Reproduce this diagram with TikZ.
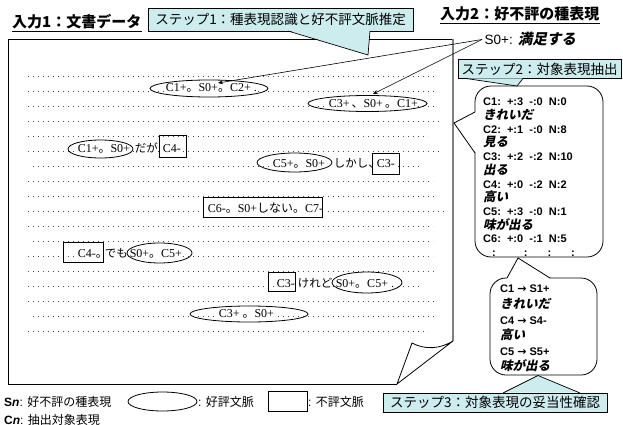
\documentclass[tikz,border=0pt]{standalone}
\usepackage{fontspec}
\setmainfont{Liberation Sans}
\newfontfamily\tmfont{Liberation Serif}
\newfontfamily\jpfont{Noto Sans CJK JP}
\newfontfamily\jslant{Noto Sans CJK JP}[FakeSlant=0.22]
\newfontfamily\arrfont{DejaVu Sans}
\usetikzlibrary{shapes.geometric,arrows.meta,calc}
\definecolor{callc}{RGB}{204,236,238}
\newcommand\jj[1]{{\jpfont #1}}
\newcommand\jb[1]{{\jslant\fontsize{12.5}{12.5}\selectfont\bfseries #1}}
\newcommand\rarr{{\arrfont\bfseries →}}
\begin{document}
\begin{tikzpicture}[x=1pt,y=-1pt,
  dotrow/.style={line width=0.9pt, dash pattern=on 0.9pt off 4.1pt, black!70},
  rowtxt/.style={fill=white, inner sep=0.6pt, anchor=base west, font=\tmfont\fontsize{12}{12}\selectfont},
  jtxt/.style={fill=white, inner sep=0.6pt, anchor=base west, font=\jpfont\fontsize{11.5}{11.5}\selectfont},
  goodctx/.style={draw, ellipse, inner sep=0pt, line width=0.8pt},
  badctx/.style={draw, rectangle, inner sep=0pt, line width=0.8pt},
  callbox/.style={draw, fill=callc, line width=0.7pt, inner sep=0pt, font=\jpfont\fontsize{13.5}{13.5}\selectfont},
  titletxt/.style={anchor=base west, inner sep=0pt, font=\jpfont\bfseries\fontsize{15}{15}\selectfont},
  bubble/.style={draw, fill=white, rounded corners=16pt, line width=0.8pt},
  conn/.style={line width=0.6pt, -{Stealth[length=5pt,width=4pt]}}
]
\useasboundingbox (0,0) rectangle (623,425);

% ---------- titles ----------
\node[titletxt] (title1) at (12,28) {入力1：文書データ};
\draw[line width=1.3pt] ($(title1.base west)+(0,3.5)$) -- ($(title1.base east)+(0,3.5)$);
\node[titletxt] (title2) at (440,20) {入力2：好不評の種表現};
\draw[line width=1.3pt] ($(title2.base west)+(0,3.5)$) -- ($(title2.base east)+(0,3.5)$);

% ---------- document page ----------
\draw[line width=0.8pt] (453,39) -- (8,39) -- (8,384) -- (397,384);
\draw[gray, line width=2pt] (453,39) -- (453,341);
\draw[line width=0.8pt, fill=white] (412,343) .. controls (425,350) and (440,349) .. (453,341) -- (397,384) -- cycle;

% dotted lines
\foreach \k/\s/\e in {0/28/435,1/28/437,2/28/437,3/28/442,4/28/428,5/28/440,6/33/422,7/28/433,8/28/435,9/28/447,10/28/433,11/33/433,12/28/433,13/28/436,14/28/420,15/28/435,16/33/435,17/28/428}
  \draw[dotrow] (\s,76+15*\k) -- (\e,76+15*\k);

% row 1
\node[rowtxt] (r1) at (165,92) {C1+\jj{。}S0+\jj{。}C2+ .};
\node[goodctx, minimum width=118pt, minimum height=17pt] (e1) at (209,88.5) {};
% row 2
\node[rowtxt] (r2) at (328,107) {C3+\,\jj{、}S0+\,\jj{。}C1+};
\node[goodctx, minimum width=119pt, minimum height=16pt] (e2) at (367.5,103.5) {};
% row 5
\node[rowtxt] (r5a) at (77,152) {C1+\jj{。}S0+};
\node[goodctx, minimum width=65pt, minimum height=18pt] (e5) at (100.5,149) {};
\node[jtxt] (r5b) at (134,152) {だが};
\node[rowtxt] (r5c) at (162,152) {C4-};
\node[badctx, minimum width=27pt, minimum height=22pt] (b5) at (172.5,146) {};
% row 6
\node[rowtxt] (r6a) at (272,167) {C5+\jj{。}S0+};
\node[goodctx, minimum width=75pt, minimum height=19pt] (e6) at (294.5,162.5) {};
\node[jtxt] (r6b) at (333,167) {しかし、};
\node[rowtxt] (r6c) at (376,167) {C3-};
\node[badctx, minimum width=27pt, minimum height=21pt] (b6) at (385.5,163.5) {};
% row 9
\node[rowtxt] (r9) at (207,212) {C6-\jj{。}S0+\jj{しない。}C7-};
\node[badctx, minimum width=119pt, minimum height=20pt] (b9) at (262.5,207) {};
% row 12
\node[rowtxt] (r12a) at (77,257) {C4-\jj{。}};
\node[badctx, minimum width=40pt, minimum height=20pt] (b12) at (83,252) {};
\node[jtxt] (r12b) at (104,257) {でも};
\node[rowtxt] (r12c) at (129,257) {S0+\jj{。}C5+};
\node[goodctx, minimum width=65pt, minimum height=20pt] (e12) at (159.5,253) {};
% row 14
\node[rowtxt] (r14a) at (276,287) {C3-};
\node[badctx, minimum width=27pt, minimum height=19pt] (b14) at (281.5,281.5) {};
\node[jtxt] (r14b) at (297,287) {けれど};
\node[rowtxt] (r14c) at (335,287) {S0+\jj{。}C5+ .};
\node[goodctx, minimum width=70pt, minimum height=21pt] (e14) at (367,282.5) {};
% row 16
\node[rowtxt] (r16) at (218,317) {C3+ \jj{。}S0+};
\node[goodctx, minimum width=118pt, minimum height=16pt] (e16) at (249,314) {};

% ---------- seed expression ----------
\node[anchor=base west, inner sep=2.5pt, font=\fontsize{13.5}{13.5}\selectfont] (s0) at (482,45) {S0+: {\jslant\bfseries\fontsize{14.5}{14.5}\selectfont 満足する}};
\coordinate (tgt1) at (218,83);
\coordinate (tgt2) at (373,94);
\draw[conn] (s0.west) -- (tgt1);
\draw[conn] (s0.west) -- (tgt2);

% ---------- step 1 callout ----------
\node[callbox, minimum width=265pt, minimum height=23pt] (st1) at (280.5,19.5) {ステップ1：種表現認識と好不評文脈推定};
\fill[callc] (288,30.4) -- (368,55) -- (370,30.4) -- cycle;
\draw[line width=0.7pt] (288,31) -- (368,55) -- (370,31);

% ---------- bubble 1 ----------
\draw[bubble] (475,86) rectangle (603,257);
\fill[white] (475.9,112) -- (454,123) -- (475.9,153) -- cycle;
\draw[line width=0.8pt] (475,112) -- (454,123) -- (475,153);
\node[anchor=north west, align=left, inner sep=0pt, font=\bfseries\fontsize{11}{13.7}\selectfont] (b1t) at (483,98) {%
C1:\ \ +:3\ \ -:0\ \ N:0\\
\jb{きれいだ}\\
C2:\ \ +:1\ \ -:0\ \ N:8\\
\jb{見る}\\
C3:\ \ +:2\ \ -:2\ \ N:10\\
\jb{出る}\\
C4:\ \ +:0\ \ -:2\ \ N:2\\
\jb{高い}\\
C5:\ \ +:3\ \ -:0\ \ N:1\\
\jb{味が出る}\\
C6:\ \ +:0\ \ -:1\ \ N:5\\
\hspace*{9pt}:\hspace{28pt}:\hspace{20pt}:\hspace{20pt}:};

% ---------- step 2 callout ----------
\node[callbox, minimum width=163pt, minimum height=19pt] (st2) at (539.5,69) {ステップ2：対象表現抽出};
\fill[callc] (466,78.4) -- (517,86) -- (523,78.4) -- cycle;
\draw[line width=0.7pt] (466,78.5) -- (517,86) -- (523,78.5);

% ---------- bubble 2 ----------
\draw[bubble] (490,278) rectangle (597,375);
\fill[white] (507,278.9) -- (518,258) -- (550,278.9) -- cycle;
\draw[line width=0.8pt] (507,278) -- (518,258) -- (550,278);
\node[anchor=north west, align=left, inner sep=0pt, font=\bfseries\fontsize{11}{15.6}\selectfont] (b2t) at (500,285) {%
C1 \rarr{} S1+\\
\jb{きれいだ}\\
C4 \rarr{} S4-\\
\jb{高い}\\
C5 \rarr{} S5+\\
\jb{味が出る}};

% ---------- step 3 callout ----------
\node[callbox, minimum width=224pt, minimum height=19pt] (st3) at (495,402.5) {ステップ3：対象表現の妥当性確認};
\fill[callc] (503,392.6) -- (538,375.5) -- (580,392.6) -- cycle;
\draw[line width=0.7pt] (503,393) -- (538,375.5) -- (580,393);

% ---------- legend ----------
\node[anchor=base west, inner sep=0pt, font=\fontsize{12}{12}\selectfont] (lg1) at (4,406) {\textbf{S\textit{n}}: \jj{好不評の種表現}};
\node[goodctx, minimum width=69pt, minimum height=19pt] (lg2) at (162.5,401.5) {};
\node[anchor=base west, inner sep=0pt, font=\fontsize{12}{12}\selectfont] (lg3) at (198,406) {: \jj{好評文脈}};
\node[badctx, minimum width=39pt, minimum height=20pt] (lg4) at (287.5,401) {};
\node[anchor=base west, inner sep=0pt, font=\fontsize{12}{12}\selectfont] (lg5) at (308,406) {: \jj{不評文脈}};
\node[anchor=base west, inner sep=0pt, font=\fontsize{12}{12}\selectfont] (lg6) at (4,424) {\textbf{C\textit{n}}: \jj{抽出対象表現}};
\end{tikzpicture}
\end{document}
